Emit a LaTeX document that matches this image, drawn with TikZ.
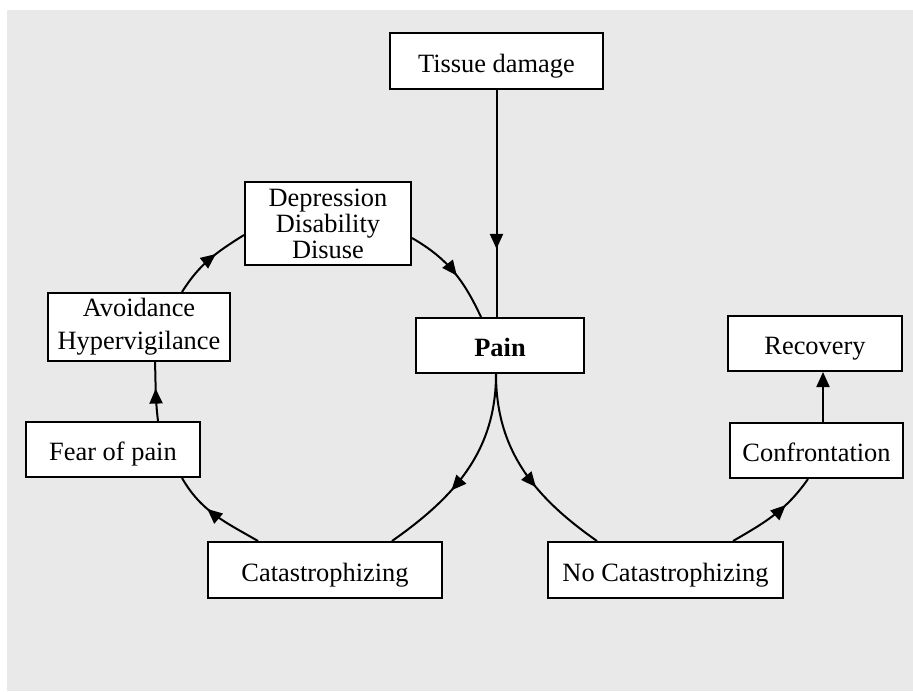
\documentclass[tikz,border=0pt]{standalone}
\usepackage{fontspec}
\setmainfont{Liberation Serif}
\usetikzlibrary{arrows.meta,decorations.markings}
\definecolor{panel}{HTML}{E9E9E9}
\tikzset{
  box/.style={draw=black, line width=2pt, fill=white, inner sep=0pt,
    align=center, font=\fontsize{26.4}{26}\selectfont},
  oneline/.style={text height=26pt, text depth=4pt},
  link/.style={line width=2pt},
  tip/.tip={Triangle[length=15pt,width=13pt]},
  midarrow/.style={postaction={decorate}, decoration={markings,
    mark=at position #1 with {\arrow{tip}}}},
}
\begin{document}
\begin{tikzpicture}[x=1pt,y=-1pt]
  % page and grey panel
  \useasboundingbox (0,0) rectangle (913,691);
  \fill[panel] (7,10) rectangle (913,691);

  % boxes
  \node[box, oneline, minimum width=213pt, minimum height=56pt] (tissue) at (496.5,61) {Tissue damage};
  \node[box, oneline, minimum width=168pt, minimum height=55pt, font=\fontsize{26.4}{26}\selectfont\bfseries] (pain) at (500,345.5) {Pain};
  \node[box, minimum width=166pt, minimum height=83pt] (dep) at (328,223.5) {Depression\\Disability\\Disuse};
  \node[box, minimum width=182pt, minimum height=68pt, font=\fontsize{26.4}{33}\selectfont] (avoid) at (139,327) {Avoidance\\Hypervigilance};
  \node[box, oneline, minimum width=174pt, minimum height=55pt] (fear) at (113,449.5) {Fear of pain};
  \node[box, oneline, minimum width=234pt, minimum height=56pt] (cat) at (325,570) {Catastrophizing};
  \node[box, oneline, minimum width=235pt, minimum height=56pt] (nocat) at (665.5,570) {No Catastrophizing};
  \node[box, oneline, minimum width=173pt, minimum height=55pt] (conf) at (816.5,450.5) {Confrontation};
  \node[box, oneline, minimum width=174pt, minimum height=55pt] (rec) at (815,343.5) {Recovery};

  % straight connectors
  \draw[link, midarrow=0.7] (tissue.south) -- (tissue.south |- pain.north);
  \draw[link, -tip] ([xshift=6.5pt]conf.north) -- ([xshift=6.5pt]conf.north |- rec.south);

  % the vicious circle
  \draw[link, midarrow=0.62] ([xshift=-4pt]pain.south) to[out=-90, in=35] ([xshift=67pt]cat.north);
  \draw[link, midarrow=0.6] ([xshift=-67pt]cat.north) to[out=150, in=-60] ([xshift=69pt]fear.south);
  \draw[link, midarrow=0.55] ([xshift=45pt]fear.north) to[out=97, in=-88] ([xshift=16pt]avoid.south);
  \draw[link, midarrow=0.6] ([xshift=43pt]avoid.north) to[out=58, in=-148] ([yshift=-11.5pt]dep.west);
  \draw[link, midarrow=0.55] ([yshift=-14.5pt]dep.east) to[out=-30, in=115] ([xshift=-19pt]pain.north);

  % the recovery route
  \draw[link, midarrow=0.6] ([xshift=-4pt]pain.south) to[out=-90, in=145] ([xshift=-68.5pt]nocat.north);
  \draw[link, midarrow=0.65] ([xshift=67.5pt]nocat.north) to[out=30, in=-125] ([xshift=-8.5pt]conf.south);
\end{tikzpicture}
\end{document}
